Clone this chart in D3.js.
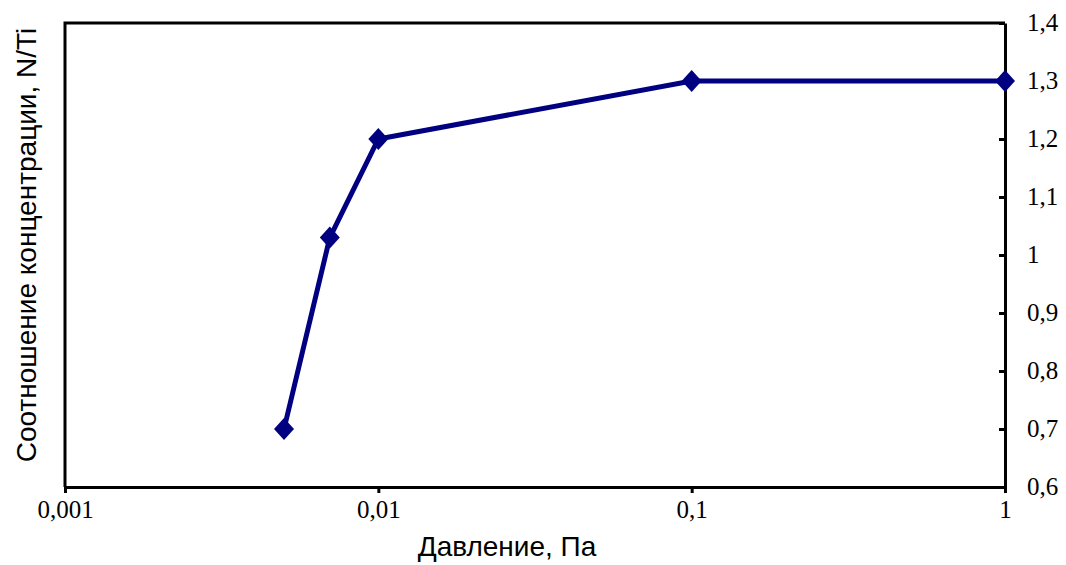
<!DOCTYPE html>
<html>
<head>
<meta charset="utf-8">
<script src="https://cdn.jsdelivr.net/npm/d3@7"></script>
<style>
  html, body { margin: 0; padding: 0; background: #fff; }
  svg { display: block; }
</style>
</head>
<body>
<svg id="chart" width="1066" height="565"></svg>
<script>
// Pressure (Pa) and N/Ti concentration ratio
const pressure = [0.005, 0.007, 0.01, 0.1, 1];
const ratioNTi = [0.7, 1.03, 1.2, 1.3, 1.3];
const xTicks = [0.001, 0.01, 0.1, 1];
const xTickLabels = ["0,001", "0,01", "0,1", "1"];
const yTicks = [0.6, 0.7, 0.8, 0.9, 1.0, 1.1, 1.2, 1.3, 1.4];
const yTickLabels = ["0,6", "0,7", "0,8", "0,9", "1", "1,1", "1,2", "1,3", "1,4"];

const svg = d3.select("#chart");
const plotL = 65, plotR = 1005, plotT = 23, plotB = 487;

const x = d3.scaleLog().domain([0.001, 1]).range([plotL, plotR]);
const y = d3.scaleLinear().domain([0.6, 1.4]).range([plotB, plotT]);

const serif = "'Liberation Serif', 'Times New Roman', serif";
const sans = "'Liberation Sans', Arial, sans-serif";

// plot frame (top and left edges)
svg.append("path")
  .attr("d", `M${plotL},${plotB} L${plotL},${plotT} L${plotR},${plotT}`)
  .attr("fill", "none").attr("stroke", "#000").attr("stroke-width", 3)
  .attr("stroke-linejoin", "miter");

// bottom axis
const xAxis = svg.append("g").attr("transform", `translate(0,${plotB})`)
  .call(d3.axisBottom(x).tickValues(xTicks)
    .tickFormat((d, i) => xTickLabels[i]).tickSize(6).tickSizeOuter(0));
xAxis.select(".domain").attr("stroke", "#000").attr("stroke-width", 3);
xAxis.selectAll(".tick line").attr("stroke", "#000").attr("stroke-width", 3);
xAxis.selectAll(".tick text")
  .attr("font-family", serif).attr("font-size", 25).attr("fill", "#000")
  .attr("y", 13).attr("dy", "0.71em");

// right axis
const yAxis = svg.append("g").attr("transform", `translate(${plotR},0)`)
  .call(d3.axisRight(y).tickValues(yTicks)
    .tickFormat((d, i) => yTickLabels[i]).tickSize(-6).tickSizeOuter(0));
yAxis.select(".domain").attr("stroke", "#000").attr("stroke-width", 3);
yAxis.selectAll(".tick line").attr("stroke", "#000").attr("stroke-width", 3);
yAxis.selectAll(".tick text")
  .attr("font-family", serif).attr("font-size", 25).attr("fill", "#000")
  .attr("x", 22).attr("dy", "0.3em");

// data line
const pts = pressure.map((p, i) => [p, ratioNTi[i]]);
svg.append("path")
  .datum(pts)
  .attr("d", d3.line().x(d => x(d[0])).y(d => y(d[1])))
  .attr("fill", "none").attr("stroke", "#000080").attr("stroke-width", 5)
  .attr("stroke-linejoin", "miter");

// diamond markers
svg.append("g").selectAll("path").data(pts).join("path")
  .attr("transform", d => `translate(${x(d[0])},${y(d[1])})`)
  .attr("d", "M0,-11 L10,0 L0,11 L-10,0 Z")
  .attr("fill", "#000080");

// axis titles
svg.append("text")
  .attr("x", 507).attr("y", 556)
  .attr("text-anchor", "middle")
  .attr("font-family", sans).attr("font-size", 28).attr("fill", "#000")
  .text("Давление, Па");

svg.append("text")
  .attr("transform", "translate(36,245) rotate(-90)")
  .attr("text-anchor", "middle")
  .attr("font-family", sans).attr("font-size", 28).attr("fill", "#000")
  .text("Соотношение концентрации, N/Ti");
</script>
</body>
</html>
